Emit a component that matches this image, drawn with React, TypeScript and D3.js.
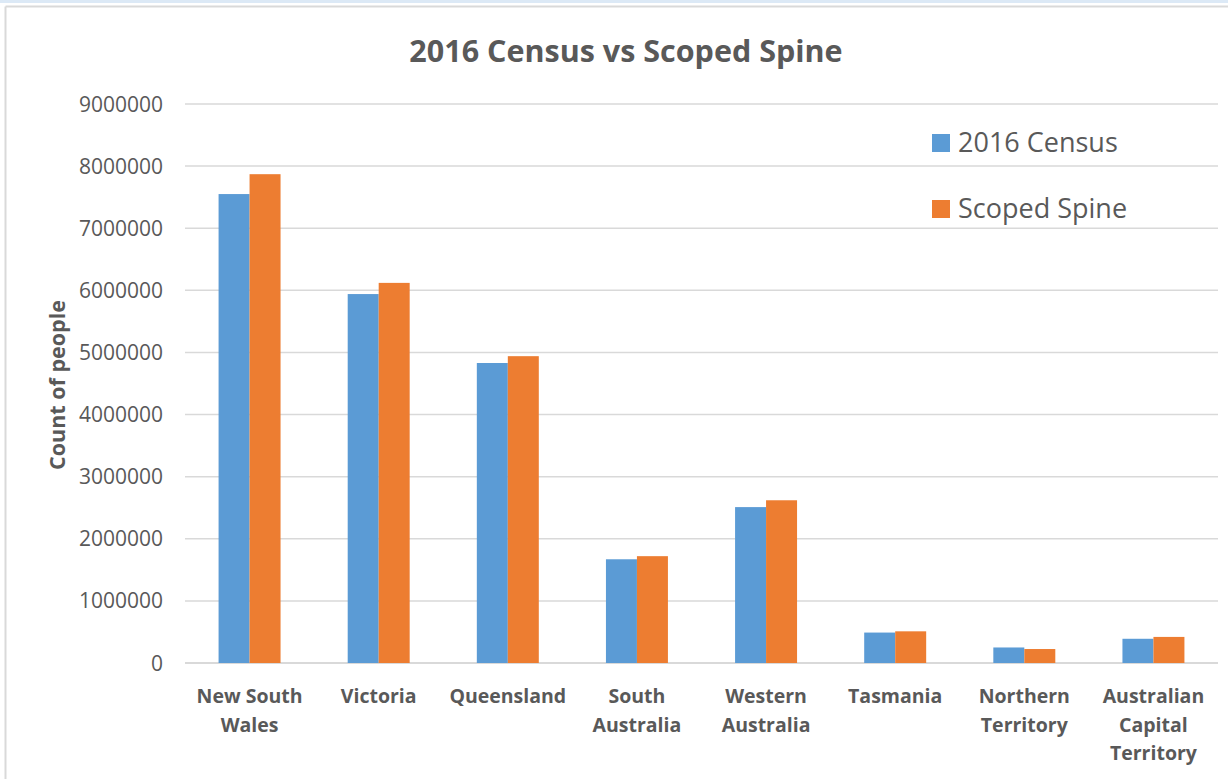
import React from 'react';
import * as d3 from 'd3';

// values
const categories = [
  ['New South', 'Wales'],
  ['Victoria'],
  ['Queensland'],
  ['South', 'Australia'],
  ['Western', 'Australia'],
  ['Tasmania'],
  ['Northern', 'Territory'],
  ['Australian', 'Capital', 'Territory'],
];
const seriesNames = ['2016 Census', 'Scoped Spine'];
const census2016 = [7550000, 5940000, 4830000, 1670000, 2510000, 490000, 250000, 390000];
const scopedSpine = [7870000, 6120000, 4940000, 1720000, 2620000, 510000, 225000, 420000];
const yTicks = [0, 1000000, 2000000, 3000000, 4000000, 5000000, 6000000, 7000000, 8000000, 9000000];

const colors = ['#5b9bd5', '#ed7d31'];
const textColor = '#595959';
const gridColor = '#d9d9d9';
const font = '"Open Sans", "Noto Sans", sans-serif';

export default function App() {
  const width = 1228;
  const height = 779;
  const plot = { left: 185, right: 1218, top: 104, bottom: 663 };

  const keys = categories.map(c => c.join(' '));
  const x = d3.scaleBand<string>()
    .domain(keys)
    .range([plot.left, plot.right])
    .paddingInner(0.52)
    .paddingOuter(0.26);
  const xs = d3.scaleBand<number>()
    .domain([0, 1])
    .range([0, x.bandwidth()]);
  const y = d3.scaleLinear()
    .domain([0, 9000000])
    .range([plot.bottom, plot.top]);

  const series = [census2016, scopedSpine];

  return (
    <svg width={width} height={height} viewBox={`0 0 ${width} ${height}`}
      style={{ position: 'absolute', left: 0, top: 0, fontFamily: font, background: '#fff' }}>
      {/* window frame bits */}
      <rect x={0} y={0} width={width} height={3} fill="#dce9f6" />
      <line x1={5.5} y1={6.5} x2={width} y2={6.5} stroke={gridColor} strokeWidth={2} />
      <line x1={5.5} y1={6.5} x2={5.5} y2={height} stroke={gridColor} strokeWidth={2} />

      <text x={626} y={62} textAnchor="middle" fontSize={30.5} fontWeight={700} fill={textColor}>
        2016 Census vs Scoped Spine
      </text>

      {yTicks.map(t => (
        <g key={t}>
          <line x1={plot.left} x2={plot.right} y1={y(t)} y2={y(t)}
            stroke={gridColor} strokeWidth={t === 0 ? 2 : 1.5} />
          <text x={163} y={y(t)} dy="0.36em" textAnchor="end" fontSize={21} fill={textColor}>
            {t}
          </text>
        </g>
      ))}

      <text transform={`translate(65,385) rotate(-90)`} textAnchor="middle"
        fontSize={21.5} fontWeight={700} fill={textColor}>
        Count of people
      </text>

      {series.map((vals, si) => (
        <g key={si}>
          {vals.map((v, i) => (
            <rect key={i}
              x={(x(keys[i]) ?? 0) + (xs(si) ?? 0)}
              y={y(v)}
              width={xs.bandwidth()}
              height={y(0) - y(v)}
              fill={colors[si]} />
          ))}
        </g>
      ))}

      {categories.map((lines, i) => (
        <text key={i} x={(x(keys[i]) ?? 0) + x.bandwidth() / 2} textAnchor="middle"
          fontSize={19.5} fontWeight={700} fill={textColor}>
          {lines.map((l, j) => (
            <tspan key={j} x={(x(keys[i]) ?? 0) + x.bandwidth() / 2} y={703 + j * 28.5}>{l}</tspan>
          ))}
        </text>
      ))}

      {seriesNames.map((name, si) => (
        <g key={name} transform={`translate(932,${134 + si * 66})`}>
          <rect x={0} y={0} width={18} height={18} fill={colors[si]} />
          <text x={26} y={18} fontSize={27} fill={textColor}>{name}</text>
        </g>
      ))}
    </svg>
  );
}
